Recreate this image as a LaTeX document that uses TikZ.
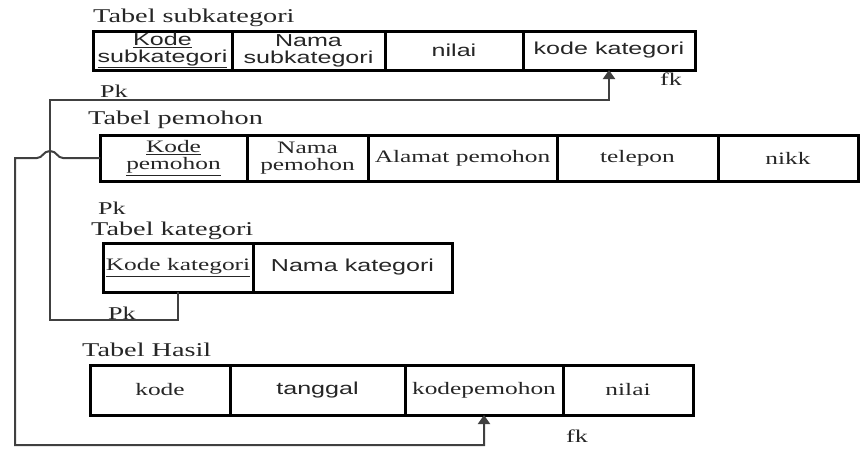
\documentclass[tikz,border=0pt]{standalone}
\usepackage{fontspec}
\setmainfont[FakeStretch=1.45]{Liberation Serif}
\newfontfamily\arialf[FakeStretch=1.45]{Liberation Sans}
\usetikzlibrary{arrows.meta}
\tikzset{
  cellbox/.style={draw=black, line width=3pt, inner sep=0pt, outer sep=0pt, anchor=north west, align=center, text=black!85},
  serifcell/.style={cellbox, font=\fontsize{17.5}{17}\selectfont},
  sanscell/.style={cellbox, font=\arialf\fontsize{17.3}{17}\selectfont},
  tabtitle/.style={anchor=west, inner sep=0pt, font=\fontsize{19.5}{19}\selectfont, text=black!85},
  keylabel/.style={anchor=west, inner sep=0pt, font=\fontsize{18}{18}\selectfont, text=black!85},
  link/.style={draw=black!75, line width=2pt},
  linkarrow/.style={link, -{Triangle[width=12pt,length=9pt]}}
}
\begin{document}
\begin{tikzpicture}[x=1pt,y=-1pt]
\useasboundingbox (0,0) rectangle (860,448);
% Tabel subkategori
\node[tabtitle] (tsub) at (93,18) {Tabel subkategori};
\node[sanscell, minimum width=139pt, minimum height=39pt] (s1) at (93,31) {\underline{Kode}\\\underline{subkategori}};
\node[sanscell, minimum width=153pt, minimum height=39pt] (s2) at (232,31) {Nama\\subkategori};
\node[sanscell, minimum width=138pt, minimum height=39pt] (s3) at (385,31) {nilai};
\node[sanscell, minimum width=172pt, minimum height=39pt] (s4) at (523,31) {kode kategori};
\node[keylabel] (pk1) at (100,91) {Pk};
\node[keylabel] (fk1) at (660,79) {fk};
% Tabel pemohon
\node[tabtitle] (tpem) at (88,120) {Tabel pemohon};
\node[serifcell, minimum width=147pt, minimum height=46pt] (p1) at (100,135) {\underline{Kode}\\\underline{pemohon}};
\node[serifcell, minimum width=121pt, minimum height=46pt] (p2) at (247,135) {Nama\\pemohon};
\node[serifcell, minimum width=189pt, minimum height=46pt] (p3) at (368,135) {Alamat pemohon};
\node[serifcell, minimum width=161pt, minimum height=46pt] (p4) at (557,135) {telepon};
\node[serifcell, minimum width=140pt, minimum height=46pt] (p5) at (718,135) {nikk};
\node[keylabel] (pk2) at (98,208) {Pk};
% Tabel kategori
\node[tabtitle] (tkat) at (91,231) {Tabel kategori};
\node[serifcell, minimum width=150pt, minimum height=49pt] (k1) at (103,243) {\underline{Kode kategori}};
\node[sanscell, minimum width=199pt, minimum height=49pt] (k2) at (253,243) {Nama kategori};
\node[keylabel] (pk3) at (108,313) {Pk};
% Tabel Hasil
\node[tabtitle] (thas) at (82,350) {Tabel Hasil};
\node[serifcell, minimum width=140pt, minimum height=50pt] (h1) at (90,365) {kode};
\node[sanscell, minimum width=175pt, minimum height=50pt] (h2) at (230,365) {tanggal};
\node[serifcell, minimum width=158pt, minimum height=50pt] (h3) at (405,365) {kodepemohon};
\node[serifcell, minimum width=130pt, minimum height=50pt] (h4) at (563,365) {nilai};
\node[keylabel] (fk2) at (566,436) {fk};
% connector kategori -> subkategori
\coordinate (ja) at (50,320);
\coordinate (jb) at (50,100);
\draw[linkarrow] (k1.south) |- (ja) -- (jb) -| (s4.south);
% connector pemohon -> hasil
\coordinate (hr) at (63,158);
\coordinate (hl) at (37,158);
\coordinate (jc) at (15,158);
\coordinate (jd) at (15,445);
\draw[linkarrow] (p1.west) -- (hr) .. controls (57,158) and (57,151) .. (50,151) .. controls (43,151) and (43,158) .. (hl) -- (jc) -- (jd) -| (h3.south);
\end{tikzpicture}
\end{document}
